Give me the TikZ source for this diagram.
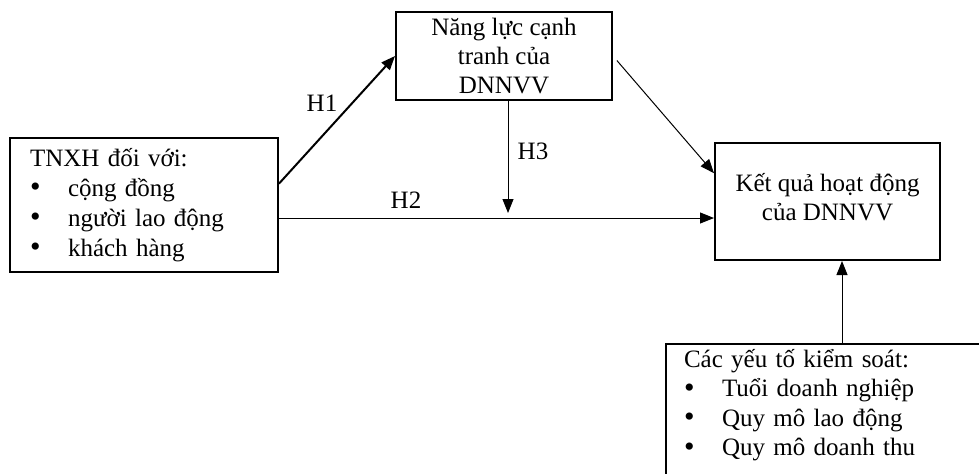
\documentclass[tikz,border=0pt]{standalone}
\usepackage{fontspec}
\setmainfont{Liberation Serif}
\usetikzlibrary{arrows.meta}
\tikzset{box/.style={draw,line width=1pt,inner sep=0pt},
  arr/.style={-{Triangle[length=7pt,width=5.5pt]},line width=.5pt}}
\newcommand{\itm}{\makebox[19pt][l]{\raisebox{-.3pt}{\scalebox{1.2}{\textbullet}}}}
\begin{document}
\begin{tikzpicture}[x=.5pt,y=-.5pt,font=\fontsize{12.5}{14.5}\selectfont]
\clip (0,0) rectangle (979,473);
\node[box,minimum width=134pt,minimum height=67pt,text width=114pt,align=left,font=\fontsize{12.5}{15}\selectfont] (T) at (144,205)
  {TNXH đối với:\\ \itm cộng đồng\\ \itm người lao động\\ \itm khách hàng};
\node[box,minimum width=108pt,minimum height=44pt,align=center] (N) at (504,56) {Năng lực cạnh\\ tranh của\\ DNNVV};
\node[box,minimum width=112.5pt,minimum height=58.5pt,align=center] (K) at (827.5,201.5)
  {Kết quả hoạt động\\ của DNNVV\rule[-5pt]{0pt}{5pt}};
\node[box,anchor=north west,inner xsep=9pt,text width=160pt,align=left,font=\fontsize{12.5}{14.8}\selectfont] (C) at (665,343)
  {\rule{0pt}{11.5pt}Các yếu tố kiểm soát:\\ \itm Tuổi doanh nghiệp\\ \itm Quy mô lao động\\ \itm Quy mô doanh thu\rule[-15pt]{0pt}{15pt}};
\coordinate (m) at (508,213);\coordinate (c) at (842,343);
\draw[arr,line width=1pt] (T.9.7) -- (N.west);
\draw[arr] (T.east |- 0,218) -- (K.west |- 0,218);
\draw[arr] (N.south -| m) -- (m);
\draw[arr,shorten <=3pt] (N.east) -- (K.166);
\draw[arr] (c) -- (c |- K.south);
\node (h1) at (322,103) {H1};\node (h2) at (406,200) {H2};\node (h3) at (533,151) {H3};
\end{tikzpicture}
\end{document}
